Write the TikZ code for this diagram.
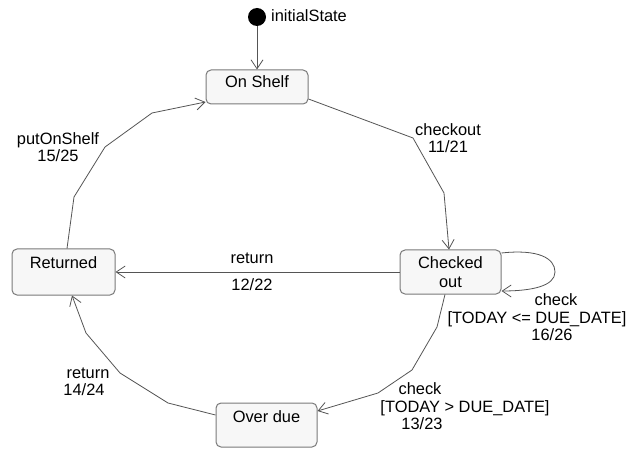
\documentclass[tikz,border=0pt]{standalone}
\usepackage{fontspec}
\setmainfont{Liberation Sans}
\usetikzlibrary{arrows.meta}
\definecolor{boxfill}{HTML}{F7F7F7}
\definecolor{boxline}{HTML}{7A7A7A}
\definecolor{edgecol}{HTML}{555555}
\begin{document}
\begin{tikzpicture}[x=1pt,y=-1pt,
  every node/.style={font=\fontsize{16.4}{19}\selectfont, text=black},
  stbox/.style={draw=boxline, fill=boxfill, rounded corners=5pt, line width=1pt, inner sep=0pt},
  lbl/.style={inner sep=0pt, align=center, text height=12pt, text depth=3.5pt},
  tr/.style={draw=edgecol, line width=0.8pt, -{Straight Barb[length=9pt,width=12pt,line width=0.8pt]}}
]
\useasboundingbox (0,0) rectangle (640,449);
\fill[white] (0,0) rectangle (640,449);

% states
\node[circle, fill=black, minimum size=18pt, inner sep=0pt] (init) at (257,17) {};
\node[lbl, anchor=west] (initT) at (271,17) {initialState};

\node[stbox, minimum width=102pt, minimum height=34pt] (onshelf) at (257,87) {};
\node[lbl] (onshelfT) at (257,83) {On Shelf};

\node[stbox, minimum width=101pt, minimum height=44pt] (checked) at (450.5,272) {};
\node[lbl] (checkedT) at (450.5,283) {Checked\\out};

\node[stbox, minimum width=103pt, minimum height=46pt] (returned) at (63.5,272) {};
\node[lbl] (returnedT) at (63.5,264) {Returned};

\node[stbox, minimum width=101pt, minimum height=44pt] (overdue) at (266.5,425) {};
\node[lbl] (overdueT) at (266.5,418) {Over due};

% transitions
\draw[tr] (init) -- (onshelf.north);

\draw[tr] (onshelf.east |- 0,99) -- (413,138) -- (444,193) -- (checked.north -| 449,0);

\draw[tr] (returned.north -| 67,0) -- (74,197) -- (105,147) -- (152,113) -- (onshelf.west |- 0,102);

\draw[tr] (checked.west) -- (returned.east);

\draw[tr] (checked.east |- 0,253) .. controls (538,249) and (555,258) .. (555,272)
  .. controls (555,286) and (532,291) .. (checked.east |- 0,291);

\draw[tr] (checked.south -| 445,0) -- (437,327) -- (412,370) -- (378,393) -- (overdue.east |- 0,411);

\draw[tr] (overdue.west |- 0,415) -- (168,403) -- (120,373) -- (86,333) -- (returned.south -| 72,0);

% labels
\node[lbl] (l1) at (448,131) {checkout};
\node[lbl] (l1b) at (448,148) {11/21};

\node[lbl] (l2) at (58,140) {putOnShelf};
\node[lbl] (l2b) at (58,157) {15/25};

\node[lbl] (l3) at (252,259) {return};
\node[lbl] (l3b) at (252,286) {12/22};

\node[lbl] (l4) at (556,301) {check};
\node[lbl] (l4b) at (537,319) {[TODAY <= DUE\_DATE]};
\node[lbl] (l4c) at (552,336) {16/26};

\node[lbl] (l5) at (420,390) {check};
\node[lbl] (l5b) at (465,408) {[TODAY > DUE\_DATE]};
\node[lbl] (l5c) at (422,425) {13/23};

\node[lbl] (l6) at (88,374) {return};
\node[lbl] (l6b) at (84,391) {14/24};
\end{tikzpicture}
\end{document}
